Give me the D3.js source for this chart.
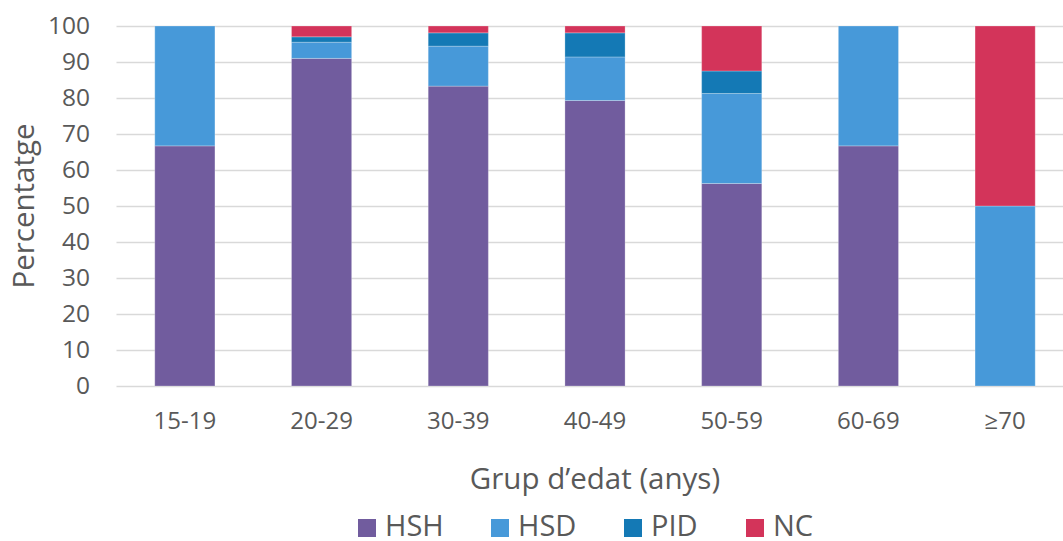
<!DOCTYPE html>
<html>
<head>
<meta charset="utf-8">
<script src="https://cdn.jsdelivr.net/npm/d3@7"></script>
<style>
  html, body { margin: 0; padding: 0; background: #fff; }
  svg { display: block; font-family: "Open Sans", sans-serif; }
</style>
</head>
<body>
<svg id="chart" width="1063" height="541"></svg>
<script>
// Age groups and share (%) of each transmission group
const categories = ["15-19", "20-29", "30-39", "40-49", "50-59", "60-69", "\u226570"];
const seriesNames = ["HSH", "HSD", "PID", "NC"];
const HSH = [66.7, 91.0, 83.3, 79.3, 56.25, 66.7, 0];
const HSD = [33.3, 4.5, 11.1, 12.1, 25.0, 33.3, 50];
const PID = [0, 1.5, 3.7, 6.7, 6.25, 0, 0];
const NC  = [0, 3.0, 1.9, 1.9, 12.5, 0, 50];
const yTicks = [0, 10, 20, 30, 40, 50, 60, 70, 80, 90, 100];
const colors = ["#715c9e", "#4799d9", "#1479b5", "#d3345a"];

const rows = categories.map((c, i) => ({ cat: c, HSH: HSH[i], HSD: HSD[i], PID: PID[i], NC: NC[i] }));

const svg = d3.select("#chart");
const margin = { left: 116.5, right: -10.5, top: 26, bottom: 155 };
const W = 1063, H = 541;
const textColor = "#595959";

const x = d3.scaleBand()
  .domain(categories)
  .range([margin.left, W - margin.right])
  .paddingInner(0.56)
  .paddingOuter(0.28);

const y = d3.scaleLinear().domain([0, 100]).range([H - margin.bottom, margin.top]);

// Gridlines
svg.append("g")
  .selectAll("line")
  .data(yTicks)
  .join("line")
  .attr("x1", margin.left).attr("x2", W)
  .attr("y1", d => Math.round(y(d)) + 0.5).attr("y2", d => Math.round(y(d)) + 0.5)
  .attr("stroke", "#d9d9d9").attr("stroke-width", 1.5);

// Y axis labels
const yAxis = d3.axisLeft(y).tickValues(yTicks).tickSize(0).tickPadding(0);
const gy = svg.append("g").attr("transform", `translate(${90},0)`).call(yAxis);
gy.select(".domain").remove();
gy.selectAll("text")
  .attr("font-size", 24.5).attr("fill", textColor)
  .attr("font-family", "Open Sans, sans-serif");

// Stacked bars
const stack = d3.stack().keys(seriesNames);
const layers = stack(rows);

svg.append("g")
  .selectAll("g")
  .data(layers)
  .join("g")
  .attr("fill", (d, i) => colors[i])
  .selectAll("rect")
  .data(d => d)
  .join("rect")
  .attr("x", d => x(d.data.cat))
  .attr("width", x.bandwidth())
  .attr("y", d => y(d[1]))
  .attr("height", d => Math.max(0, y(d[0]) - y(d[1])))
  .attr("stroke", "#ffffff").attr("stroke-opacity", 0.25).attr("stroke-width", 1);

// X axis
const xAxis = d3.axisBottom(x).tickSize(0).tickPadding(0);
const gx = svg.append("g").attr("transform", `translate(0,${y(0)})`).call(xAxis);
gx.select(".domain").remove();
gx.selectAll("text")
  .attr("dy", 0).attr("y", 43)
  .attr("font-size", 24).attr("fill", textColor)
  .attr("font-family", "Open Sans, sans-serif");

// Axis titles
svg.append("text")
  .attr("x", (margin.left + W - margin.right) / 2)
  .attr("y", 489)
  .attr("text-anchor", "middle")
  .attr("font-size", 29.5).attr("fill", textColor)
  .text("Grup d\u2019edat (anys)");

svg.append("text")
  .attr("transform", `translate(34,206) rotate(-90)`)
  .attr("text-anchor", "middle")
  .attr("font-size", 29.5).attr("fill", textColor)
  .text("Percentatge");

// Legend
const legendX = [358, 491, 624, 746];
const lg = svg.append("g")
  .selectAll("g")
  .data(seriesNames)
  .join("g")
  .attr("transform", (d, i) => `translate(${legendX[i]},0)`);
lg.append("rect")
  .attr("x", 0).attr("y", 519).attr("width", 18).attr("height", 18)
  .attr("fill", (d, i) => colors[i]);
lg.append("text")
  .attr("x", 27).attr("y", 536)
  .attr("font-size", 29).attr("fill", textColor)
  .text(d => d);
</script>
</body>
</html>
